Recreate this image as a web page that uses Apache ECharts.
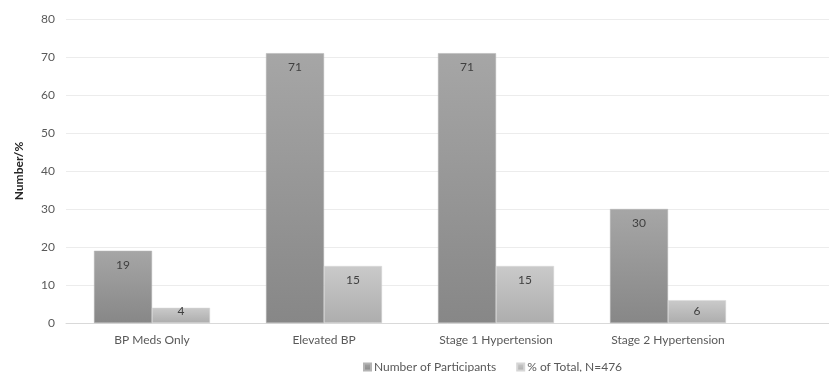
<!DOCTYPE html>
<html>
<head>
<meta charset="utf-8">
<script src="https://cdn.jsdelivr.net/npm/echarts@6/dist/echarts.min.js"></script>
<style>
  html, body { margin: 0; padding: 0; background: #fff; overflow: hidden; }
  #chart { width: 829px; height: 372px; }
</style>
</head>
<body>
<div id="chart"></div>
<script>
// Blood pressure categories (trailing blank slot keeps the plot area wide)
const categories = ['BP Meds Only', 'Elevated BP', 'Stage 1 Hypertension', 'Stage 2 Hypertension', ''];
const participants = [19, 71, 71, 30, null];
const percentOfTotal = [4, 15, 15, 6, null];
const yTicks = { min: 0, max: 80, interval: 10 };

const FONT = 'Lato, "Open Sans", sans-serif';

function grad(top, bottom) {
  return new echarts.graphic.LinearGradient(0, 0, 0, 1, [
    { offset: 0, color: top },
    { offset: 1, color: bottom }
  ]);
}

const chart = echarts.init(document.getElementById('chart'), null, { renderer: 'canvas' });

// keep value labels of short bars from dropping below the baseline
const labelFloor = 317;
function liftLabel(params) {
  const r = params.labelRect;
  const overflow = r.y + r.height - labelFloor;
  return overflow > 0 ? { dy: -overflow } : {};
}

chart.setOption({
  animation: false,
  backgroundColor: '#ffffff',
  textStyle: { fontFamily: FONT },
  grid: { left: 66, width: 860, top: 19, bottom: 49, containLabel: false, outerBoundsMode: 'none' },
  legend: {
    left: 358,
    top: 356,
    itemWidth: 7,
    itemHeight: 7,
    itemGap: 20,
    icon: 'rect',
    textStyle: { fontFamily: FONT, fontSize: 12, color: '#595959', padding: [0, 0, 0, -2] },
    data: ['Number of Participants', '% of Total, N=476']
  },
  xAxis: {
    type: 'category',
    data: categories,
    axisLine: { show: true, lineStyle: { color: '#d9d9d9', width: 1 } },
    axisTick: { show: false },
    axisLabel: { fontFamily: FONT, fontSize: 12, color: '#595959', margin: 11, interval: 0 }
  },
  yAxis: {
    type: 'value',
    min: yTicks.min,
    max: yTicks.max,
    interval: yTicks.interval,
    name: 'Number/%',
    nameLocation: 'middle',
    nameRotate: 90,
    nameGap: 41,
    nameTextStyle: { fontFamily: FONT, fontSize: 12, fontWeight: 'bold', color: '#262626' },
    axisLine: { show: false },
    axisTick: { show: false },
    axisLabel: { fontFamily: FONT, fontSize: 12, color: '#595959', margin: 11 },
    splitLine: { lineStyle: { color: '#ececec', width: 1 } }
  },
  series: [
    {
      name: 'Number of Participants',
      type: 'bar',
      data: participants,
      barWidth: 58,
      barGap: '0%',
      itemStyle: { color: grad('#a6a6a6', '#878787'), borderColor: '#b4b4b4', borderWidth: 0.5 },
      label: {
        show: true, position: 'insideTop', distance: 8,
        fontFamily: FONT, fontSize: 12, color: '#404040'
      },
      labelLayout: liftLabel
    },
    {
      name: '% of Total, N=476',
      type: 'bar',
      data: percentOfTotal,
      barWidth: 58,
      itemStyle: { color: grad('#cacaca', '#adadad'), borderColor: '#d6d6d6', borderWidth: 0.5 },
      label: {
        show: true, position: 'insideTop', distance: 8,
        fontFamily: FONT, fontSize: 12, color: '#404040'
      },
      labelLayout: liftLabel
    }
  ]
});
</script>
</body>
</html>
